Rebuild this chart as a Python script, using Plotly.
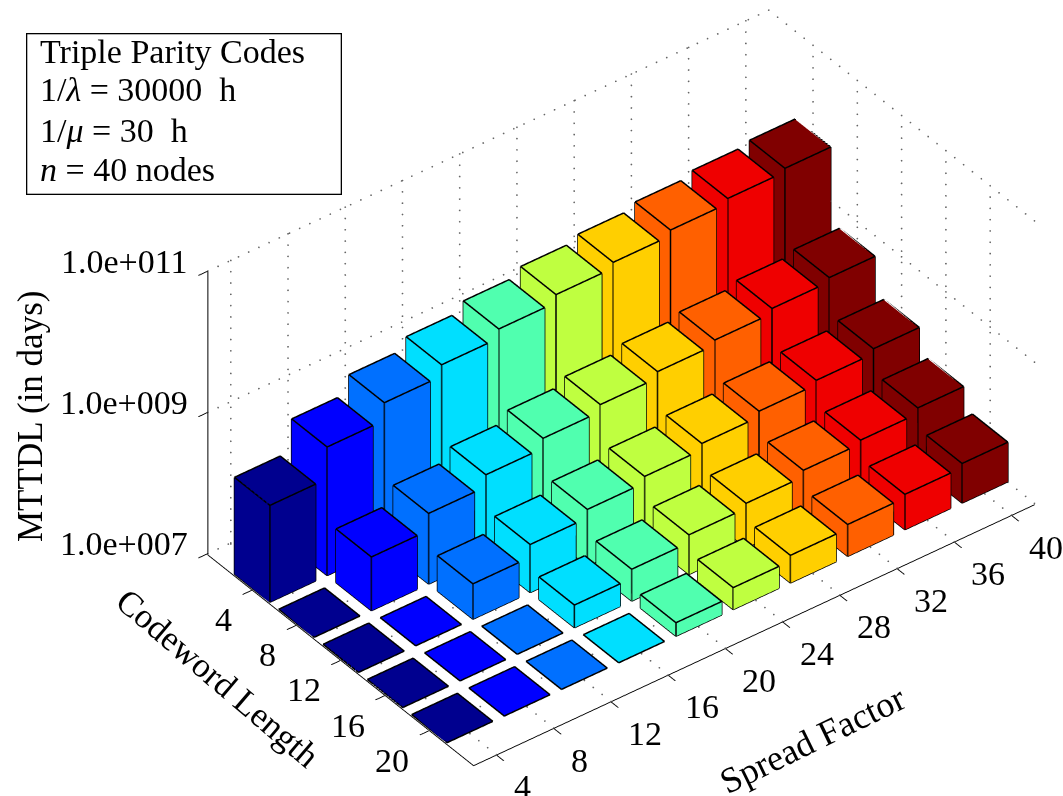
import math
import plotly.graph_objects as go

spread = [4, 8, 12, 16, 20, 24, 28, 32, 36, 40]
codeword = [4, 8, 12, 16, 20]
z_ticks = [7, 9, 11]
z_labels = ["1.0e+007", "1.0e+009", "1.0e+011"]
log_mttdl_cw4 = [8.37, 8.82, 9.07, 9.23, 9.36, 9.47, 9.55, 9.63, 9.70, 9.75]
log_mttdl_cw8 = [7.0, 7.76, 8.00, 8.17, 8.31, 8.41, 8.50, 8.57, 8.64, 8.70]
log_mttdl_cw12 = [7.0, 7.0, 7.50, 7.68, 7.80, 7.89, 7.98, 8.06, 8.12, 8.19]
log_mttdl_cw16 = [7.0, 7.0, 7.0, 7.32, 7.45, 7.56, 7.63, 7.72, 7.77, 7.85]
log_mttdl_cw20 = [7.0, 7.0, 7.0, 7.0, 7.19, 7.31, 7.39, 7.45, 7.50, 7.56]
log_mttdl = [log_mttdl_cw4, log_mttdl_cw8, log_mttdl_cw12, log_mttdl_cw16, log_mttdl_cw20]
jet = ["#00008f", "#0000ff", "#0070ff", "#00dfff", "#50ffaf", "#bfff40", "#ffcf00", "#ff6000", "#ef0000", "#800000"]

X_RANGE = [2.4, 41.6]
Y_RANGE = [24, 0]
Z_FLOOR = 7
Z_TOP = 11
EDGE_LIFT = 0.008
hw = 1.6
xs, ys, zs, ii, jj, kk, fc = [], [], [], [], [], [], []
ex, ey, ez = [], [], []
for r, cw in enumerate(codeword):
    for c, sf in enumerate(spread):
        top = log_mttdl[r][c]
        n = len(xs)
        for dz in (Z_FLOOR, top):
            for dx, dy in ((-hw, -hw), (hw, -hw), (hw, hw), (-hw, hw)):
                xs.append(sf + dx); ys.append(cw + dy); zs.append(dz)
        faces = [(4,5,6),(4,6,7),(0,1,5),(0,5,4),(1,2,6),(1,6,5),(2,3,7),(2,7,6),(3,0,4),(3,4,7)]
        for a, b, d in faces:
            ii.append(n+a); jj.append(n+b); kk.append(n+d); fc.append(jet[c])
        for a, b in [(0,1),(1,2),(2,3),(3,0),(4,5),(5,6),(6,7),(7,4),(0,4),(1,5),(2,6),(3,7)]:
            ex += [xs[n+a], xs[n+b], None]; ey += [ys[n+a], ys[n+b], None]
            ez += [zs[n+a] + EDGE_LIFT, zs[n+b] + EDGE_LIFT, None]

# dotted grid on the two back walls and the floor, drawn as tiny markers
gx, gy, gz = [], [], []
def dots(p, q, n):
    for t in range(n + 1):
        f = t / n
        gx.append(p[0] + (q[0]-p[0])*f); gy.append(p[1] + (q[1]-p[1])*f); gz.append(p[2] + (q[2]-p[2])*f)
wall_y = Y_RANGE[1]
wall_x = X_RANGE[1]
FLOOR_GRID = 6.985
for sf in spread:
    dots((sf, wall_y, Z_FLOOR), (sf, wall_y, Z_TOP), 25)
    dots((sf, wall_y, FLOOR_GRID), (sf, Y_RANGE[0], FLOOR_GRID), 30)
for cw in codeword:
    dots((wall_x, cw, Z_FLOOR), (wall_x, cw, Z_TOP), 25)
    dots((X_RANGE[0], cw, FLOOR_GRID), (wall_x, cw, FLOOR_GRID), 55)
for zt in z_ticks:
    dots((X_RANGE[0], wall_y, zt), (wall_x, wall_y, zt), 55)
    dots((wall_x, wall_y, zt), (wall_x, Y_RANGE[0], zt), 30)

fig = go.Figure()
fig.add_trace(go.Scatter3d(x=gx, y=gy, z=gz, mode="markers", marker=dict(color="#666666", size=1, line=dict(width=0)), hoverinfo="skip"))
fig.add_trace(go.Mesh3d(x=xs, y=ys, z=zs, i=ii, j=jj, k=kk, facecolor=fc, flatshading=True,
                        lighting=dict(ambient=1, diffuse=0, specular=0, roughness=1, fresnel=0),
                        hoverinfo="skip"))
fig.add_trace(go.Scatter3d(x=ex, y=ey, z=ez, mode="lines", line=dict(color="black", width=3), hoverinfo="skip"))

FONT = "Liberation Serif"
scene_ann = []
for sf in spread:
    scene_ann.append(dict(x=sf, y=Y_RANGE[0], z=Z_FLOOR, text=str(sf), showarrow=False, xanchor="left", yanchor="middle",
                          xshift=15, yshift=-33, font=dict(family=FONT, size=34, color="black")))
for cw in codeword:
    scene_ann.append(dict(x=X_RANGE[0], y=cw, z=Z_FLOOR, text=str(cw), showarrow=False, xanchor="right", yanchor="middle",
                          xshift=-18, yshift=-31, font=dict(family=FONT, size=34, color="black")))
for zt, lab in zip(z_ticks, z_labels):
    scene_ann.append(dict(x=X_RANGE[0], y=Y_RANGE[1], z=zt, text=lab, showarrow=False, xanchor="right", yanchor="middle",
                          xshift=-18, yshift=10, font=dict(family=FONT, size=34, color="black")))

az = math.radians(37.45); el = math.radians(37.4); R = 2.0
px_unit = 395.0
s, c = math.sin(az), math.cos(az)
sp, cp = math.sin(el), math.cos(el)
right = (c, -s, 0.0)
up = (s*sp, c*sp, cp)
dx_px, dy_px = 89.0, 10.0
center = [-(dx_px*right[i] + dy_px*up[i])/px_unit for i in range(3)]
eye_dir = (-s*cp, -c*cp, sp)
eye = [center[i] + R*eye_dir[i] for i in range(3)]

axis_common = dict(showbackground=False, showspikes=False, showticklabels=False, title="", showgrid=False,
                   showline=True, linecolor="black", linewidth=2, ticks="outside", ticklen=12, tickcolor="black", tickwidth=2, zeroline=False)
W, H = 1063, 796
legend_lines = ["Triple Parity Codes", "1/<i>λ</i>\u00a0=\u00a030000\u00a0\u00a0h", "1/<i>μ</i>\u00a0=\u00a030\u00a0\u00a0h", "<i>n</i>\u00a0=\u00a040\u00a0nodes"]
legend_ys = [52, 90, 130, 170]
annotations = [
    dict(xref="paper", yref="paper", x=26/W, y=1-33/H, xanchor="left", yanchor="top", showarrow=False,
         text="\u00a0", width=313, height=159, borderpad=0, borderwidth=1.3, bordercolor="black", bgcolor="white"),
    dict(xref="paper", yref="paper", x=30/W, y=1-417/H, xanchor="center", yanchor="middle", showarrow=False,
         text="MTTDL (in days)", textangle=-90, font=dict(family=FONT, size=35, color="black")),
    dict(xref="paper", yref="paper", x=218/W, y=1-678/H, xanchor="center", yanchor="middle", showarrow=False,
         text="Codeword Length", textangle=40.5, font=dict(family=FONT, size=35, color="black")),
    dict(xref="paper", yref="paper", x=812/W, y=1-740/H, xanchor="center", yanchor="middle", showarrow=False,
         text="Spread Factor", textangle=-26, font=dict(family=FONT, size=36, color="black")),
]
for line, ly in zip(legend_lines, legend_ys):
    annotations.append(dict(xref="paper", yref="paper", x=38/W, y=1-ly/H, xanchor="left", yanchor="middle", showarrow=False,
                            text=line, font=dict(family=FONT, size=34, color="black")))
fig.update_layout(
    width=W, height=H, margin=dict(l=0, r=0, t=0, b=0), paper_bgcolor="white", showlegend=False,
    scene=dict(
        domain=dict(x=[0, 1], y=[0, 1]),
        aspectmode="manual", aspectratio=dict(x=1.775, y=1.098, z=0.898),
        camera=dict(eye=dict(x=eye[0], y=eye[1], z=eye[2]), up=dict(x=0, y=0, z=1),
                    center=dict(x=center[0], y=center[1], z=center[2]), projection=dict(type="orthographic")),
        xaxis=dict(range=X_RANGE, tickvals=spread, **axis_common),
        yaxis=dict(range=Y_RANGE, tickvals=codeword, **axis_common),
        zaxis=dict(range=[6.98, Z_TOP], tickvals=z_ticks, **axis_common),
        annotations=scene_ann,
    ),
    annotations=annotations,
)
fig.write_html("out.html", config=dict(displayModeBar=False), post_script="document.body.style.margin='0';")
